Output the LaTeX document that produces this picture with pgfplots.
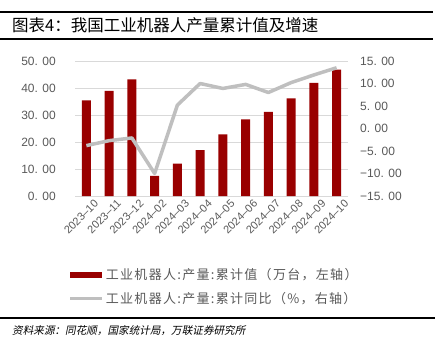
\documentclass[border=0pt]{standalone}
\usepackage{pgfplots}
\pgfplotsset{compat=1.18}
\usepackage{fontspec}
\setmainfont{Liberation Sans}
\newfontfamily\cjk{Noto Sans CJK SC}
\newfontfamily\cjkleg[LetterSpace=10]{Noto Sans CJK SC}
\newfontfamily\cjkit[FakeSlant=0.2]{Noto Sans CJK SC}
\definecolor{barred}{HTML}{990000}
\definecolor{linegray}{HTML}{BFBFBF}
\definecolor{tickgray}{HTML}{595959}
\definecolor{gridgray}{HTML}{D9D9D9}
\begin{document}
\begin{tikzpicture}[x=1pt,y=1pt]
\path[use as bounding box] (0,0) rectangle (439,-351);
\draw[line width=2pt] (0,-12) -- (433,-12);
\draw[line width=1.6pt] (0,-39) -- (433,-39);
\node[anchor=west, font=\cjk\fontsize{16.5}{16.5}\selectfont, inner sep=0] at (12,-25.5) {图表4：我国工业机器人产量累计值及增速};
\draw[line width=2pt] (0,-318) -- (435,-318);
\node[anchor=west, font=\cjkit\fontsize{10.6}{10.6}\selectfont, inner sep=0] at (12,-331) {资料来源：同花顺，国家统计局，万联证券研究所};
\begin{axis}[
  at={(75pt,-196pt)}, anchor=south west, scale only axis,
  width=273pt, height=135pt,
  xmin=-0.5, xmax=11.5, ymin=0, ymax=50,
  ytick={0,10,20,30,40,50},
  yticklabels={0. 00,10. 00,20. 00,30. 00,40. 00,50. 00},
  xtick={0,...,11},
  xticklabels={2023–10,2023–11,2023–12,2024–02,2024–03,2024–04,2024–05,2024–06,2024–07,2024–08,2024–09,2024–10},
  x tick label style={rotate=45, anchor=north east, inner sep=0, xshift=3pt, yshift=-7pt, font=\fontsize{11}{11}\selectfont, text=tickgray},
  y tick label style={anchor=east, inner sep=0, xshift=-19pt, font=\fontsize{12}{12}\selectfont, text=tickgray},
  major tick length=0pt,
  axis line style={draw=none},
  ymajorgrids, grid style={gridgray, line width=0.8pt},
  legend cell align=left,
  legend style={at={(axis description cs:-0.025,-0.52)}, anchor=north west, draw=none, fill=none,
    font=\cjkleg\fontsize{13}{13}\selectfont, text=tickgray, row sep=7pt, inner sep=0pt},
]
\addplot[ybar, bar width=9pt, fill=barred, draw=none,
  legend image code/.code={\fill[barred] (0pt,-3pt) rectangle (32pt,3pt);}]
  coordinates {(0,35.4) (1,38.9) (2,43.2) (3,7.5) (4,12.0) (5,17.0) (6,22.8) (7,28.4) (8,31.2) (9,36.2) (10,41.9) (11,46.8)};
\addlegendentry{工业机器人:产量:累计值（万台，左轴）}
\addlegendimage{legend image code/.code={\draw[linegray, line width=3.5pt] (0pt,0pt) -- (32pt,0pt);}}
\addlegendentry{工业机器人:产量:累计同比（\%，右轴）}
\end{axis}
\begin{axis}[
  at={(75pt,-196pt)}, anchor=south west, scale only axis,
  width=273pt, height=135pt,
  xmin=-0.5, xmax=11.5, ymin=-15, ymax=15,
  axis y line*=right, axis x line=none,
  axis line style={draw=none},
  ytick={-15,-10,-5,0,5,10,15},
  yticklabels={−15. 00,−10. 00,−5. 00,0. 00,5. 00,10. 00,15. 00},
  y tick label style={anchor=west, inner sep=0, xshift=12pt, font=\fontsize{12}{12}\selectfont, text=tickgray},
  major tick length=0pt,
]
\addplot[linegray, line width=3.5pt, line join=round]
  coordinates {(0,-3.8) (1,-2.7) (2,-2.1) (3,-10.0) (4,5.2) (5,10.0) (6,8.9) (7,9.8) (8,8.0) (9,10.2) (10,11.9) (11,13.5)};
\end{axis}
\end{tikzpicture}
\end{document}
